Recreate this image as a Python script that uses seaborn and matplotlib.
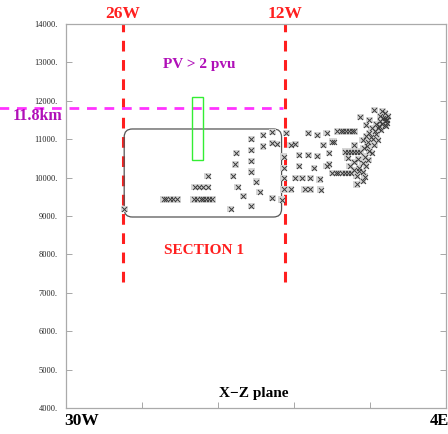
import numpy as np
import pandas as pd
import matplotlib.pyplot as plt
from matplotlib.patches import FancyBboxPatch, Rectangle
import seaborn as sns

# longitude (deg, west negative) and height (m) of the crosses
lon = [-25.9, -18.7,
       -19.8, -19.4, -19.1, -18.7,
       -22.5, -22.3, -21.9, -21.7, -21.3,
       -19.9, -19.6, -19.3, -19.1, -18.8, -18.6, -18.3,
       -16.7, -16.2, -16.3, -16.5, -16.1, -15.6,
       -14.9, -14.9, -14.9, -14.9, -14.5, -14.2, -14.9,
       -13.9, -13.9, -13.1, -13.1, -12.7, -13.1, -12.3,
       -11.9, -11.5, -11.1, -10.0, -9.2, -8.4, -8.7, -7.9, -7.8,
       -12.1, -10.8, -10.0, -9.2, -8.2,
       -12.1, -10.8, -9.5, -8.4, -8.2,
       -12.1, -11.1, -10.5, -9.8, -9.0,
       -12.1, -11.5, -10.3, -9.8, -8.9,
       -7.5, -7.2, -7.0, -6.7, -6.5, -6.2, -6.0,
       -7.9, -7.6, -7.4, -7.1, -6.8, -6.6, -6.3,
       -6.8, -6.6, -6.3, -6.0, -5.8,
       -5.8, -5.1, -5.6,
       -5.5, -4.3, -3.6, -3.4, -3.1, -3.3, -3.5, -3.8, -4.1, -3.4,
       -3.2, -4.0, -4.5, -3.7, -4.7, -4.1, -5.0, -4.4, -5.3, -4.8,
       -4.0, -4.3, -5.2, -4.7, -5.5, -4.5, -5.1, -5.7, -4.8, -5.3,
       -6.0, -5.0, -5.6, -6.0, -5.3, -5.8, -5.3, -6.4, -6.6, -6.0,
       -5.0, -4.7, -3.8, -3.4, -3.4, -3.2, -3.6, -3.9, -3.3, -4.2,
       -4.6, -4.9]
height = [9180, 10040,
          9755, 9755, 9755, 9755,
          9440, 9440, 9440, 9440, 9440,
          9440, 9440, 9440, 9440, 9440, 9440, 9440,
          9180, 10640, 10350, 10040, 9755, 9520,
          11005, 10720, 10430, 10150, 9890, 9625, 9260,
          11110, 10820, 11190, 10900, 10875, 9470, 9420,
          11160, 10850, 10875, 11160, 11110, 11160, 10850, 10930, 10930,
          10540, 10590, 10590, 10560, 10640,
          10250, 10300, 10250, 10300, 10350,
          9990, 9990, 9990, 9990, 9960,
          9700, 9700, 9700, 9700, 9680,
          11210, 11210, 11210, 11210, 11210, 11210, 11210,
          10120, 10120, 10120, 10120, 10120, 10120, 10120,
          10670, 10670, 10670, 10670, 10670,
          9830, 10020, 10170,
          11580, 11760, 11735, 11680, 11600, 11500, 11550, 11475, 11395, 11370,
          11420, 11290, 11290, 11240, 11160, 11135, 11080, 11005, 10980, 10930,
          10980, 10850, 10770, 10690, 10670, 10640, 10540, 10485, 10460, 10380,
          10405, 10300, 10250, 10200, 10145, 10040, 9910, 10300, 10510, 10850,
          11370, 11500, 11600, 11475, 11550, 11500, 11400, 11345, 11345, 11210,
          11055, 10820]

pts = pd.DataFrame({'lon': lon, 'height': height})

ytick_vals = [4000, 5000, 6000, 7000, 8000, 9000, 10000, 11000, 12000, 13000, 14000]
ytick_labels = ['4000.', '5000.', '6000.', '7000.', '8000.', '9000.', '10000.',
                '11000.', '12000.', '13000.', '14000.']

section_lons = [-26, -12]
section_names = ['26W', '12W']
tropopause = 11800

sns.set_theme(style='white')
plt.rcParams['font.family'] = ['Liberation Serif', 'DejaVu Serif']

fig = plt.figure(figsize=(4.48, 4.34), dpi=100)
ax = fig.add_axes([0.1473, 0.0599, 0.8482, 0.8848])

xmin, xmax = -30.93, 1.91
ax.set_xlim(xmin, xmax)
ax.set_ylim(4000, 14000)

# crosses with a light grey box behind
sns.scatterplot(data=pts, x='lon', y='height', marker='s', s=24, color='#d6d6d6',
                edgecolor='none', ax=ax, zorder=3)
sns.scatterplot(data=pts, x='lon', y='height', marker='x', s=13, color='#3a3a3a',
                linewidth=0.7, ax=ax, zorder=4)

# section boundaries
for x0, name in zip(section_lons, section_names):
    ax.plot([x0, x0], [7280, 14000], color='#ff1f1f', lw=2.2, ls=(0, (3.5, 2.8)),
            zorder=2, clip_on=False)
    ax.text(x0, 14260, name, color='#ff1f1f', fontsize=12.5, fontweight='bold',
            ha='center', va='center')

# 11.8 km line
ax.plot([-36.7, -12.2], [tropopause, tropopause], color='#ff33ff', lw=2,
        ls=(0, (3.5, 2.8)), zorder=2, clip_on=False)
ax.text(-33.4, tropopause - 200, '11.8km', color='#b010b8', fontsize=11.5,
        fontweight='bold', ha='center', va='center')

# section box and PV column
box = FancyBboxPatch((-25.9, 8974), 13.6, 2292,
                     boxstyle='round,pad=0,rounding_size=0.7', mutation_aspect=300,
                     fill=False, edgecolor='#555555', lw=0.9, zorder=2)
ax.add_patch(box)
ax.add_patch(Rectangle((-20.0, 10460), 0.95, 1640, fill=False, edgecolor='#33ee33',
                       lw=1, zorder=2))

ax.text(-19.4, 12940, 'PV > 2 pvu', color='#b010b8', fontsize=11, fontweight='bold',
        ha='center', va='center')
ax.text(-19.0, 8100, 'SECTION 1', color='#ff1f1f', fontsize=11, fontweight='bold',
        ha='center', va='center')
ax.text(-14.7, 4390, 'X\u2212Z plane', color='black', fontsize=11, fontweight='bold',
        ha='center', va='center')
ax.text(-29.6, 3660, '30W', color='black', fontsize=12.5, fontweight='bold',
        ha='center', va='center')
ax.text(0.55, 3660, '4E', color='black', fontsize=12, fontweight='bold',
        ha='left', va='center', clip_on=False)

ax.set_xticks(np.linspace(xmin, xmax, 6))
ax.set_xticklabels([])
ax.set_yticks(ytick_vals)
ax.set_yticklabels(ytick_labels, fontsize=6, color='#222222')
ax.tick_params(direction='in', length=4, width=0.6, color='#999999',
               left=True, right=True, bottom=True, top=False, pad=6)
ax.set_xlabel('')
ax.set_ylabel('')
for sp in ax.spines.values():
    sp.set_color('#aaaaaa')
    sp.set_linewidth(0.9)

fig.savefig('out.png', dpi=100)
